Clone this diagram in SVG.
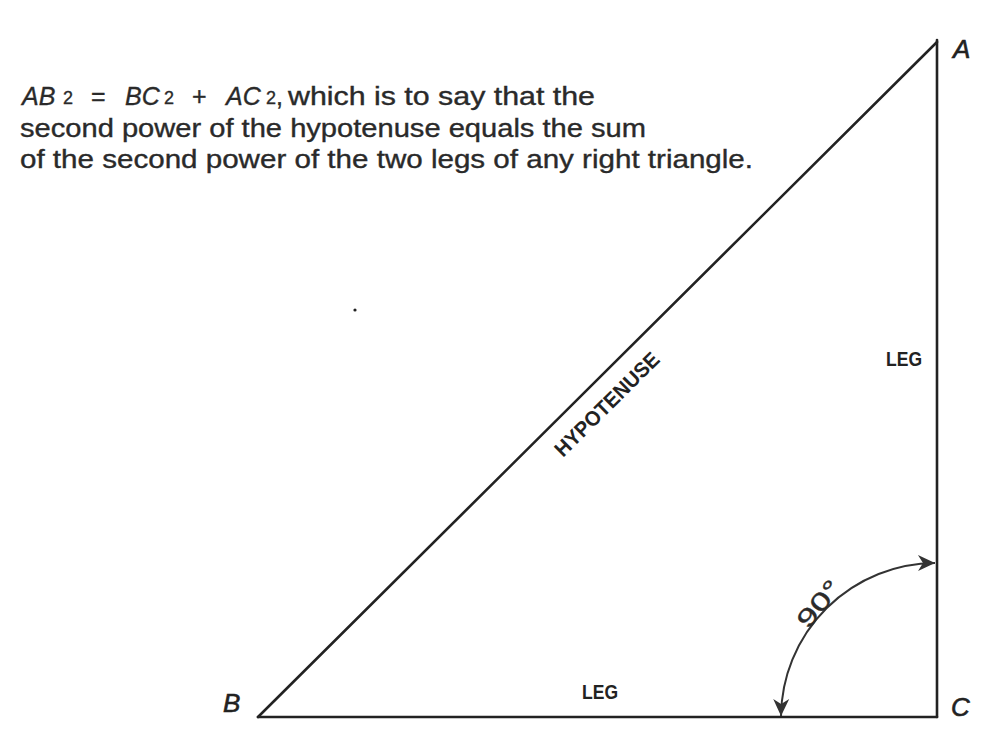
<svg xmlns="http://www.w3.org/2000/svg" width="1006" height="750" viewBox="0 0 1006 750">
<defs>
<style>
.ln{stroke:#222;stroke-width:2.6;fill:none;stroke-linecap:round}
.arc{stroke:#333;stroke-width:2;fill:none}
.body{font-family:"Liberation Sans",Arial,sans-serif;font-size:25px;fill:#2a2a2a;stroke:#2a2a2a;stroke-width:0.35}
.it{font-style:italic}
.sup{font-size:18px}
.lbl{font-family:"Liberation Sans",Arial,sans-serif;font-style:italic;font-size:26px;fill:#222;stroke:#222;stroke-width:0.6}
.leg{font-family:"Liberation Sans",Arial,sans-serif;font-weight:bold;font-size:21px;fill:#222}
</style>
<marker id="ah" viewBox="-19 -9 21 18" refX="0" refY="0" markerWidth="21" markerHeight="18" markerUnits="userSpaceOnUse" orient="auto-start-reverse">
<path d="M0,0 L-17,-8 L-12,0 L-17,8 Z" fill="#333"/>
</marker>
</defs>
<rect width="1006" height="750" fill="#fff"/>
<g id="caption">
<text class="body" y="105"><tspan class="it" x="22">AB</tspan><tspan class="sup" x="63" dy="-1">2</tspan><tspan x="91" dy="1">=</tspan><tspan class="it" x="125">BC</tspan><tspan class="sup" x="164" dy="-1">2</tspan><tspan x="192" dy="1">+</tspan><tspan class="it" x="226">AC</tspan><tspan class="sup" x="266" dy="-1">2</tspan><tspan x="276" dy="1">,</tspan><tspan x="288" textLength="307" lengthAdjust="spacingAndGlyphs">which is to say that the</tspan></text>
<text class="body" x="20" y="137" textLength="626" lengthAdjust="spacingAndGlyphs">second power of the hypotenuse equals the sum</text>
<text class="body" x="20" y="168" textLength="733" lengthAdjust="spacingAndGlyphs">of the second power of the two legs of any right triangle.</text>
</g>
<g id="connectors">
<line class="ln" x1="258" y1="717" x2="937" y2="42"/>
<line class="ln" x1="937" y1="40" x2="937" y2="717"/>
<line class="ln" x1="258" y1="717" x2="937" y2="717"/>
<path class="arc" d="M 781 716 A 155 155 0 0 1 935 563" marker-start="url(#ah)" marker-end="url(#ah)"/>
</g>
<g id="vertex-A"><text class="lbl" x="953" y="58">A</text></g>
<g id="vertex-B"><text class="lbl" x="223" y="712">B</text></g>
<g id="vertex-C"><text class="lbl" x="951" y="716">C</text></g>
<g id="hypotenuse-label"><text class="leg" transform="translate(563,458) rotate(-44.8)" x="0" y="0" textLength="138" lengthAdjust="spacingAndGlyphs" font-size="19">HYPOTENUSE</text></g>
<g id="leg-right"><text class="leg" x="886" y="366" textLength="36" lengthAdjust="spacingAndGlyphs">LEG</text></g>
<g id="leg-bottom"><text class="leg" x="582" y="699" textLength="36" lengthAdjust="spacingAndGlyphs">LEG</text></g>
<g id="angle-label"><text class="body" transform="translate(808,630) rotate(-50)" x="0" y="0" font-size="30" textLength="54" lengthAdjust="spacingAndGlyphs">90°</text></g>
<circle cx="355" cy="310" r="1.6" fill="#222"/>
</svg>
